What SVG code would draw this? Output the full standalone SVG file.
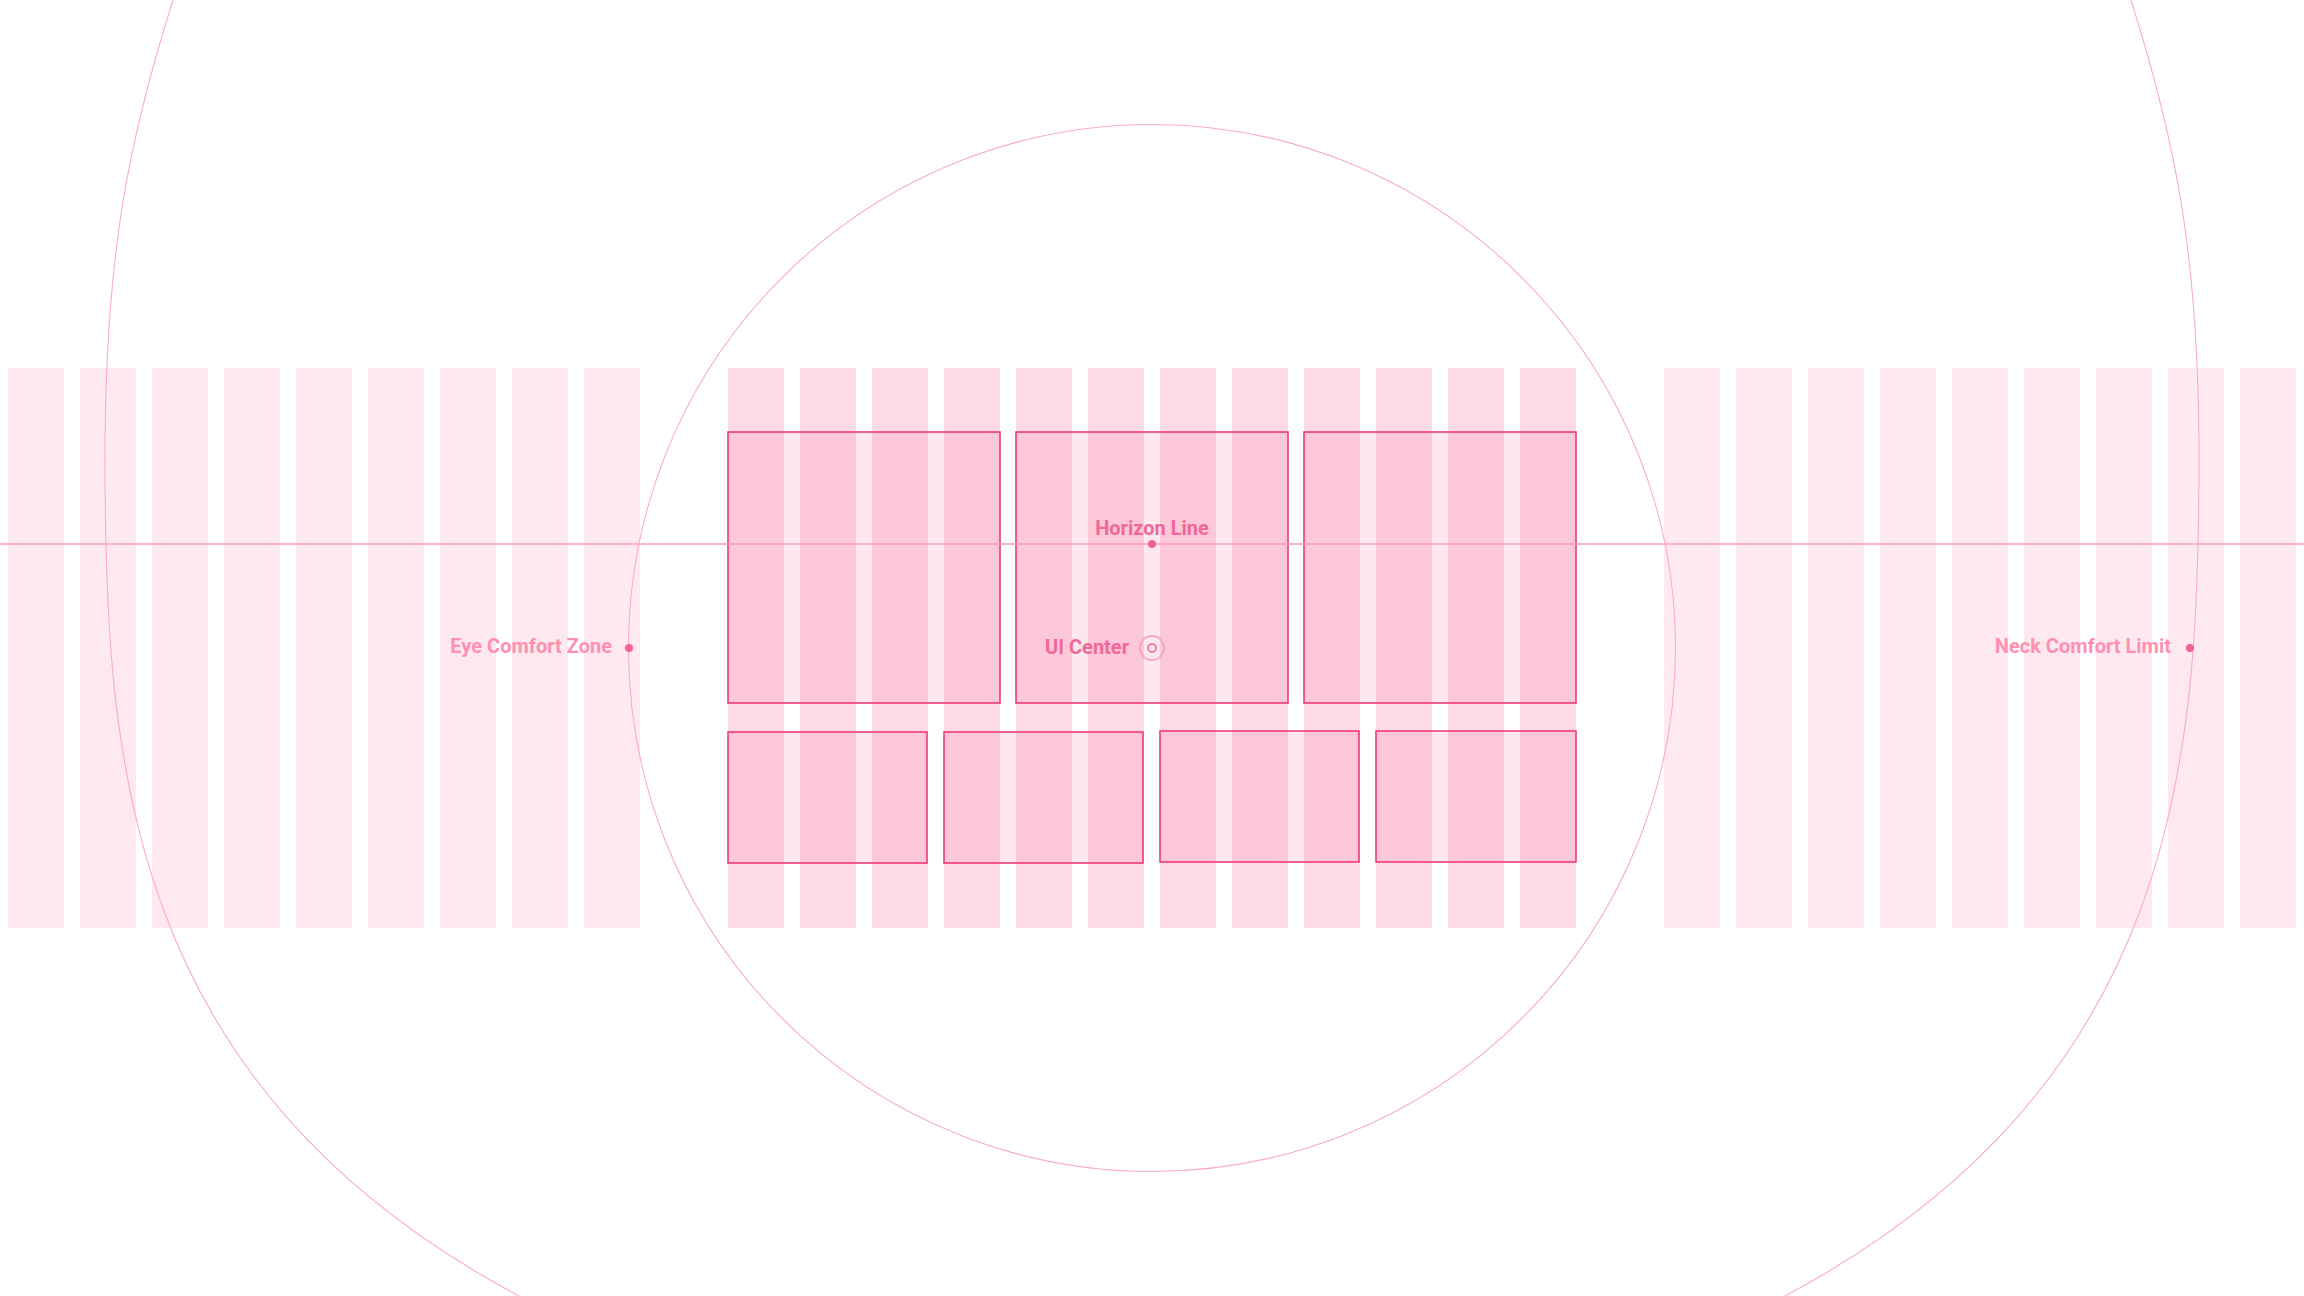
<svg xmlns="http://www.w3.org/2000/svg" width="2304" height="1296" viewBox="0 0 2304 1296">
  <defs>
    <style>
      .col-outer { fill: #ffe9f0; }
      .col-center { fill: #fddbe5; }
      .panel { fill: #f5457f; fill-opacity: 0.12; stroke: #f0306e; stroke-width: 1.5; }
      .guide { fill: none; stroke: #f9acc6; stroke-width: 1.1; }
      .horizon { fill: none; stroke: #f7a0bd; stroke-width: 1.4; }
      .lbl { font-family: Roboto, "Liberation Sans", Arial, sans-serif; font-size: 20px; font-weight: 700; }
      .lbl-strong { fill: #f2679a; }
      .lbl-soft { fill: #ff90b2; }
      .dot { fill: #f2648f; }
    </style>
  </defs>
  <rect width="2304" height="1296" fill="#ffffff"/>

  <g id="columns-left">
    <rect class="col-outer" x="8" y="368" width="56" height="560"/>
    <rect class="col-outer" x="80" y="368" width="56" height="560"/>
    <rect class="col-outer" x="152" y="368" width="56" height="560"/>
    <rect class="col-outer" x="224" y="368" width="56" height="560"/>
    <rect class="col-outer" x="296" y="368" width="56" height="560"/>
    <rect class="col-outer" x="368" y="368" width="56" height="560"/>
    <rect class="col-outer" x="440" y="368" width="56" height="560"/>
    <rect class="col-outer" x="512" y="368" width="56" height="560"/>
    <rect class="col-outer" x="584" y="368" width="56" height="560"/>
  </g>
  <g id="columns-center">
    <rect class="col-center" x="728" y="368" width="56" height="560"/>
    <rect class="col-center" x="800" y="368" width="56" height="560"/>
    <rect class="col-center" x="872" y="368" width="56" height="560"/>
    <rect class="col-center" x="944" y="368" width="56" height="560"/>
    <rect class="col-center" x="1016" y="368" width="56" height="560"/>
    <rect class="col-center" x="1088" y="368" width="56" height="560"/>
    <rect class="col-center" x="1160" y="368" width="56" height="560"/>
    <rect class="col-center" x="1232" y="368" width="56" height="560"/>
    <rect class="col-center" x="1304" y="368" width="56" height="560"/>
    <rect class="col-center" x="1376" y="368" width="56" height="560"/>
    <rect class="col-center" x="1448" y="368" width="56" height="560"/>
    <rect class="col-center" x="1520" y="368" width="56" height="560"/>
  </g>
  <g id="columns-right">
    <rect class="col-outer" x="1664" y="368" width="56" height="560"/>
    <rect class="col-outer" x="1736" y="368" width="56" height="560"/>
    <rect class="col-outer" x="1808" y="368" width="56" height="560"/>
    <rect class="col-outer" x="1880" y="368" width="56" height="560"/>
    <rect class="col-outer" x="1952" y="368" width="56" height="560"/>
    <rect class="col-outer" x="2024" y="368" width="56" height="560"/>
    <rect class="col-outer" x="2096" y="368" width="56" height="560"/>
    <rect class="col-outer" x="2168" y="368" width="56" height="560"/>
    <rect class="col-outer" x="2240" y="368" width="56" height="560"/>
  </g>

  <g id="panel-1"><rect class="panel" x="728" y="432" width="272" height="271"/></g>
  <g id="panel-2"><rect class="panel" x="1016" y="432" width="272" height="271"/></g>
  <g id="panel-3"><rect class="panel" x="1304" y="432" width="272" height="271"/></g>
  <g id="panel-4"><rect class="panel" x="728" y="732" width="199" height="131"/></g>
  <g id="panel-5"><rect class="panel" x="944" y="732" width="199" height="131"/></g>
  <g id="panel-6"><rect class="panel" x="1160" y="731" width="199" height="131"/></g>
  <g id="panel-7"><rect class="panel" x="1376" y="731" width="200" height="131"/></g>

  <g id="guides">
    <circle class="guide" cx="1152" cy="648" r="523.5"/>
    <path class="guide" d="M 173 0 C 128 142.5, 105 257, 105 457 C 105 757, 123 1084.5, 519 1296"/>
    <path class="guide" d="M 2131 0 C 2176 142.5, 2199 257, 2199 457 C 2199 757, 2181 1084.5, 1785 1296"/>
    <line class="horizon" x1="0" y1="544" x2="2304" y2="544"/>
  </g>

  <g id="horizon-label">
    <text class="lbl lbl-strong" x="1152" y="535" text-anchor="middle">Horizon Line</text>
    <circle class="dot" cx="1152" cy="544" r="4"/>
  </g>
  <g id="ui-center">
    <text class="lbl lbl-strong" x="1129" y="654" text-anchor="end">UI Center</text>
    <circle cx="1152" cy="648" r="12" fill="none" stroke="#f598b6" stroke-width="1.3"/>
    <circle cx="1152" cy="648" r="4" fill="none" stroke="#f0668f" stroke-width="1.6"/>
  </g>
  <g id="eye-comfort-zone">
    <text class="lbl lbl-soft" x="612" y="653" text-anchor="end">Eye Comfort Zone</text>
    <circle class="dot" cx="629" cy="648" r="4"/>
  </g>
  <g id="neck-comfort-limit">
    <text class="lbl lbl-soft" x="2171" y="653" text-anchor="end">Neck Comfort Limit</text>
    <circle class="dot" cx="2190" cy="648" r="4"/>
  </g>
</svg>
